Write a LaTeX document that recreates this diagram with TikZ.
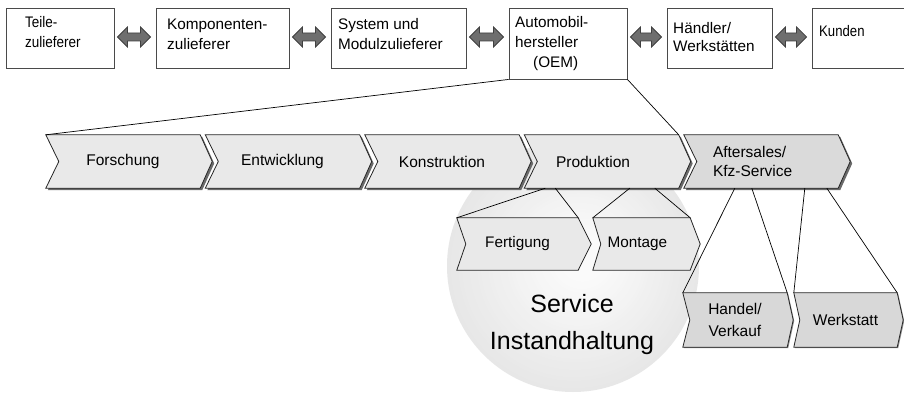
\documentclass[tikz,border=0pt]{standalone}
\usepackage{fontspec}
\setmainfont{Liberation Sans}
\newfontfamily\condA[FakeStretch=0.88]{Liberation Sans}
\newfontfamily\condB[FakeStretch=0.86]{Liberation Sans}
\usetikzlibrary{calc,shadows}
\pgfdeclarelayer{bottom}
\pgfdeclarelayer{background}
\pgfsetlayers{bottom,background,main}
\definecolor{boxline}{HTML}{4A4A4A}
\definecolor{arrfill}{HTML}{6E6E6E}
\definecolor{chevfill}{HTML}{E9E9E9}
\definecolor{chevdark}{HTML}{DADADA}
\definecolor{subdark}{HTML}{D8D8D8}
\definecolor{shadowc}{HTML}{6A6A6A}
\definecolor{svcin}{HTML}{FAFAFA}
\definecolor{svcout}{HTML}{E7E7E7}
\newcommand\chevshape[4]{%
  \path[#4] (#1.north west) -- (#1.north east) -- ($(#1.east)+(#3,0)$) -- (#1.south east) -- (#1.south west) -- ($(#1.west)+(#2,0)$) -- cycle;}
\newcommand\dblarrow[2]{%
  \path[dblarr] ($(#1.east |- ay)+(3,0)$) -- ++(10,-10) -- ++(0,6) -- ($(#2.west |- ay)+(-15,-4)$) -- ++(0,-6) -- ++(10,10) -- ++(-10,10) -- ++(0,-6) -- ($(#1.east |- ay)+(13,4)$) -- ++(0,6) -- cycle;}
\begin{document}
\begin{tikzpicture}[x=1pt,y=-1pt,
  topbox/.style={draw=boxline, line width=0.9pt, fill=white, inner sep=0, minimum height=60pt},
  toptext/.style={anchor=north west, align=left, inner sep=0, font=\fontsize{15.3}{20}\selectfont},
  chevbody/.style={inner sep=0, minimum height=53pt, font=\fontsize{15.5}{19}\selectfont},
  subbody/.style={inner sep=0, font=\fontsize{15.3}{19}\selectfont},
  chevpoly/.style={draw=black!85, line width=0.8pt, fill=chevfill},
  subpoly/.style={draw=black!85, line width=0.8pt, fill=chevfill},
  chevshadow/.style={drop shadow={shadow xshift=2pt, shadow yshift=-2pt, opacity=1, fill=shadowc}},
  lightshadow/.style={drop shadow={shadow xshift=1pt, shadow yshift=-1pt, opacity=1, fill=black!45}},
  conn/.style={draw=black, line width=0.7pt},
  dblarr/.style={draw=black!75, line width=0.8pt, fill=arrfill}]
\useasboundingbox (0,0) rectangle (904,395);
\begin{pgfonlayer}{bottom}
\fill[white] (0,0) rectangle (904,395);
\node[circle, inner sep=0, minimum size=252pt] (svc) at (573,266) {};
\foreach \k in {0,...,30}{
  \pgfmathsetmacro\rr{126-3.4*\k}
  \pgfmathsetmacro\pp{100*\k/30}
  \pgfmathsetmacro\ff{1-\rr/126}
  \fill[svcin!\pp!svcout] ($(svc.center)+(12*\ff,-10*\ff)$) circle[radius=\rr];
}
\end{pgfonlayer}
\coordinate (ay) at (0,37);
% top boxes
\node[topbox, minimum width=108pt] (b1) at (60,38) {};
\node[topbox, minimum width=133pt] (b2) at (222.5,38) {};
\node[topbox, minimum width=135pt] (b3) at (398.5,38) {};
\node[topbox, minimum width=118pt, minimum height=71pt] (b4) at (568,43.5) {};
\node[topbox, minimum width=105pt] (b5) at (719.5,38) {};
\node[topbox, minimum width=100pt] (b6) at (862,38) {};
\node[toptext, font=\condA\fontsize{15.3}{20}\selectfont] (t1) at (25,16) {Teile-\\zulieferer};
\node[toptext] (t2) at (167,18.5) {Komponenten-\\zulieferer};
\node[toptext] (t3) at (338,18.5) {System und\\Modulzulieferer};
\node[toptext] (t4) at (515,16.5) {Automobil-\\hersteller\\\hspace*{18pt}(OEM)};
\node[toptext, font=\fontsize{15.3}{18.5}\selectfont] (t5) at (673,22) {Händler/\\Werkstätten};
\node[toptext, font=\condB\fontsize{15.3}{20}\selectfont] (t6) at (819,25) {Kunden};
\dblarrow{b1}{b2}
\dblarrow{b2}{b3}
\dblarrow{b3}{b4}
\dblarrow{b4}{b5}
\dblarrow{b5}{b6}
% chevrons
\node[chevbody, minimum width=154pt] (ch1) at (123,161.5) {Forschung};
\node[chevbody, minimum width=154pt] (ch2) at (282.5,161.5) {Entwicklung};
\node[chevbody, minimum width=154pt] (ch3) at (442,161.5) {Konstruktion};
\node[chevbody, minimum width=154pt, text width=91pt, inner xsep=31.5pt, align=left] (ch4) at (601.5,161.5) {Produktion};
\node[chevbody, minimum width=154pt, text width=96pt, inner xsep=29pt, align=left] (ch5) at (761,161.5) {Aftersales/\\Kfz-Service};
\node[subbody, minimum width=121pt, minimum height=52pt] (fert) at (517.5,244) {Fertigung};
\node[subbody, minimum width=97pt, minimum height=52pt, text width=68pt, inner xsep=14.5pt, align=left] (mont) at (641.5,244) {Montage};
\node[subbody, minimum width=104pt, minimum height=54pt, align=center, font=\fontsize{15.5}{22}\selectfont] (hand) at (735,320) {Handel/\\Verkauf};
\node[subbody, minimum width=103pt, minimum height=54pt, font=\fontsize{15.5}{19}\selectfont] (werk) at (845.5,320) {Werkstatt};
\begin{pgfonlayer}{background}
\chevshape{ch1}{13}{12}{chevpoly, chevshadow}
\chevshape{ch2}{13}{12}{chevpoly, chevshadow}
\chevshape{ch3}{13}{12}{chevpoly, chevshadow}
\chevshape{ch4}{13}{12}{chevpoly, chevshadow}
\chevshape{ch5}{13}{12}{chevpoly, chevshadow, fill=chevdark}
\chevshape{fert}{9}{13}{subpoly}
\chevshape{mont}{8}{10}{subpoly}
\chevshape{hand}{7}{6}{subpoly, lightshadow, fill=subdark}
\chevshape{werk}{6}{6}{subpoly, lightshadow, fill=subdark}
\end{pgfonlayer}
% service text
\node[font=\fontsize{25}{37}\selectfont, align=center, inner sep=0] (svct) at (572,325) {Service\\Instandhaltung};
% connectors
\draw[conn] (b4.south west) -- (ch1.north west);
\draw[conn] (b4.south east) -- (ch4.north east);
\draw[conn] ($(ch4.south west)+(21,0)$) -- (fert.north west);
\draw[conn] ($(ch4.south west)+(31,0)$) -- (fert.north east);
\draw[conn] ($(ch4.south west)+(105.5,0)$) -- (mont.north west);
\draw[conn] ($(ch4.south west)+(130.5,0)$) -- (mont.north east);
\draw[conn] ($(ch5.south west)+(51,0)$) -- (hand.north west);
\draw[conn] ($(ch5.south west)+(68,0)$) -- (hand.north east);
\draw[conn] ($(ch5.south west)+(121,0)$) -- (werk.north west);
\draw[conn] ($(ch5.south west)+(143,0)$) -- (werk.north east);
\end{tikzpicture}
\end{document}
